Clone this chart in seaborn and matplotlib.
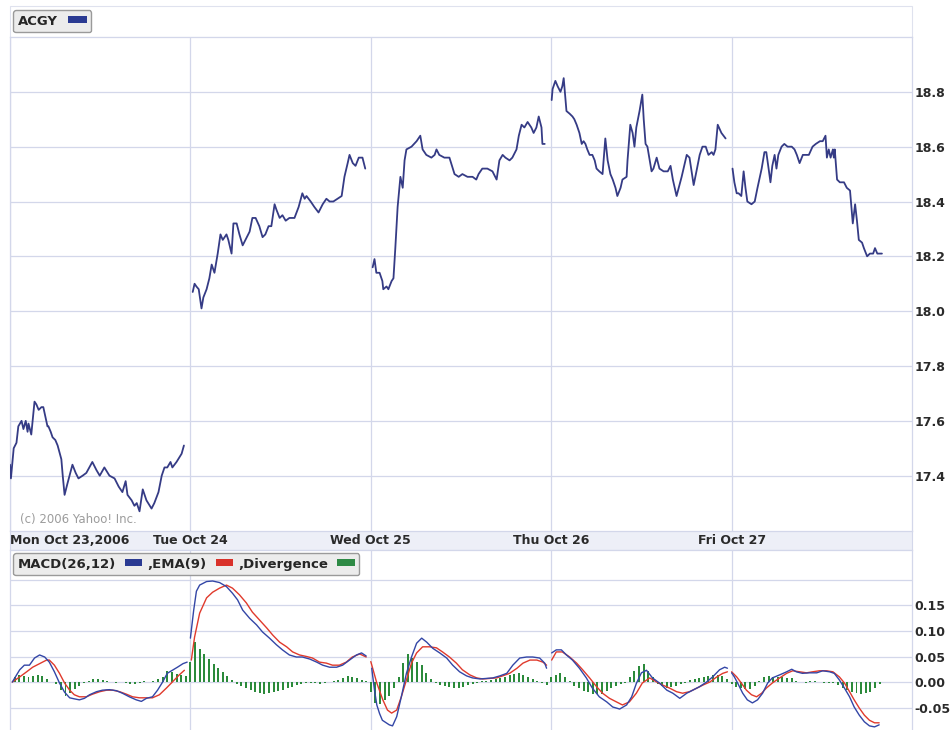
import numpy as np
import pandas as pd
import matplotlib
matplotlib.use("Agg")
import matplotlib.pyplot as plt
from matplotlib.patches import Rectangle, Patch
import seaborn as sns

# ---------------- data ----------------
day_labels = ["Mon Oct 23,2006", "Tue Oct 24", "Wed Oct 25", "Thu Oct 26", "Fri Oct 27"]
SESSION_MIN = 390          # minutes in a trading session (9:30-16:00)
BAR_STEP_MIN = 10          # divergence bar interval, minutes

# price: minutes after the open, price
mon_t = [0, 2, 8, 14, 18, 25, 29, 34, 38, 40, 46, 53, 57, 62, 68, 72, 81, 83, 88, 92, 98, 103, 111, 114, 118,
         124, 135, 142, 148, 157, 165, 178, 187, 194, 204, 215, 226, 235, 243, 250, 254, 263, 269, 274, 280,
         287, 295, 306, 312, 321, 328, 334, 340, 347, 351, 360, 371, 376]
mon_p = [17.44, 17.39, 17.50, 17.52, 17.58, 17.60, 17.57, 17.60, 17.56, 17.59, 17.55, 17.67, 17.66, 17.64, 17.65,
         17.65, 17.58, 17.58, 17.56, 17.54, 17.53, 17.51, 17.46, 17.40, 17.33, 17.37, 17.44, 17.41, 17.39, 17.40,
         17.41, 17.45, 17.42, 17.40, 17.43, 17.40, 17.39, 17.36, 17.34, 17.38, 17.33, 17.31, 17.29, 17.30, 17.27,
         17.35, 17.31, 17.28, 17.30, 17.34, 17.40, 17.43, 17.43, 17.45, 17.43, 17.45, 17.48, 17.51]
tue_t = [5, 9, 13, 18, 24, 28, 35, 41, 46, 52, 59, 65, 70, 78, 82, 89, 93, 100, 106, 113, 119, 128, 134, 141, 149,
         156, 162, 169, 175, 182, 186, 193, 199, 206, 214, 225, 234, 242, 247, 251, 260, 268, 277, 286, 294, 301,
         309, 318, 327, 333, 340, 344, 351, 357, 364, 372, 378]
tue_p = [18.07, 18.10, 18.09, 18.08, 18.01, 18.05, 18.08, 18.12, 18.17, 18.14, 18.21, 18.28, 18.26, 18.28, 18.26,
         18.21, 18.32, 18.32, 18.28, 18.24, 18.26, 18.29, 18.34, 18.34, 18.31, 18.27, 18.28, 18.31, 18.31, 18.39,
         18.37, 18.34, 18.35, 18.33, 18.34, 18.34, 18.38, 18.43, 18.41, 18.42, 18.40, 18.38, 18.36, 18.39, 18.41,
         18.40, 18.40, 18.41, 18.42, 18.49, 18.54, 18.57, 18.54, 18.53, 18.56, 18.56, 18.52]
wed_t = [4, 8, 12, 19, 25, 27, 34, 38, 45, 49, 53, 58, 64, 69, 73, 77, 88, 99, 107, 112, 120, 131, 138, 142, 148,
         159, 170, 181, 190, 198, 209, 220, 228, 233, 241, 252, 263, 272, 278, 285, 291, 300, 306, 315, 320, 326,
         332, 339, 347, 352, 358, 363, 369, 371, 376]
wed_p = [18.16, 18.19, 18.14, 18.14, 18.11, 18.08, 18.09, 18.08, 18.11, 18.12, 18.23, 18.38, 18.49, 18.45, 18.55,
         18.59, 18.60, 18.62, 18.64, 18.59, 18.57, 18.56, 18.57, 18.59, 18.57, 18.56, 18.56, 18.50, 18.49, 18.50,
         18.49, 18.49, 18.48, 18.50, 18.52, 18.52, 18.51, 18.48, 18.55, 18.57, 18.56, 18.55, 18.56, 18.59, 18.64,
         18.68, 18.67, 18.69, 18.67, 18.65, 18.67, 18.71, 18.67, 18.61, 18.61]
thu_t = [1, 3, 9, 14, 20, 24, 27, 31, 33, 40, 46, 50, 55, 61, 66, 70, 74, 78, 83, 89, 94, 98, 104, 111, 117, 122,
         128, 133, 139, 143, 150, 154, 163, 165, 171, 176, 180, 184, 191, 197, 200, 204, 208, 217, 221, 228, 234,
         243, 252, 258, 263, 271, 282, 293, 299, 308, 314, 321, 327, 334, 340, 347, 351, 355, 360, 368, 377]
thu_p = [18.77, 18.81, 18.84, 18.82, 18.80, 18.82, 18.85, 18.77, 18.73, 18.72, 18.71, 18.70, 18.68, 18.65, 18.61,
         18.62, 18.61, 18.59, 18.57, 18.57, 18.55, 18.52, 18.51, 18.50, 18.63, 18.55, 18.50, 18.48, 18.45, 18.42,
         18.45, 18.48, 18.49, 18.55, 18.68, 18.65, 18.60, 18.67, 18.73, 18.79, 18.70, 18.61, 18.60, 18.51, 18.52,
         18.56, 18.52, 18.51, 18.51, 18.53, 18.48, 18.42, 18.49, 18.57, 18.56, 18.46, 18.51, 18.57, 18.60, 18.60,
         18.57, 18.58, 18.57, 18.59, 18.68, 18.65, 18.63]
fri_t = [2, 6, 11, 15, 21, 26, 30, 34, 43, 50, 56, 65, 71, 75, 80, 84, 88, 93, 97, 101, 108, 114, 121, 130, 136,
         141, 147, 154, 160, 167, 175, 182, 191, 197, 203, 206, 210, 214, 219, 221, 223, 228, 234, 243, 249, 256,
         258, 262, 267, 271, 275, 282, 286, 293, 299, 306, 310, 315, 321, 325]
fri_p = [18.52, 18.47, 18.43, 18.43, 18.42, 18.51, 18.45, 18.40, 18.39, 18.40, 18.45, 18.52, 18.58, 18.58, 18.52,
         18.47, 18.53, 18.57, 18.52, 18.57, 18.60, 18.61, 18.60, 18.60, 18.59, 18.57, 18.54, 18.57, 18.57, 18.57,
         18.60, 18.61, 18.62, 18.62, 18.64, 18.56, 18.59, 18.56, 18.59, 18.56, 18.59, 18.48, 18.47, 18.47, 18.45,
         18.44, 18.40, 18.32, 18.39, 18.33, 18.26, 18.25, 18.23, 18.20, 18.21, 18.21, 18.23, 18.21, 18.21, 18.21]

# MACD(26,12) line
mon_macd_t = [5, 21, 31, 42, 53, 64, 75, 85, 96, 107, 118, 129, 139, 150, 161, 172, 187, 200, 215, 230, 243, 258,
              273, 284, 295, 308, 319, 330, 340, 351, 362, 374, 383]
mon_macd = [0.0, 0.024, 0.033, 0.033, 0.047, 0.053, 0.049, 0.039, 0.02, -0.002, -0.02, -0.031, -0.033, -0.035,
            -0.032, -0.025, -0.019, -0.016, -0.015, -0.017, -0.022, -0.029, -0.035, -0.038, -0.032, -0.029, -0.016,
            0.0, 0.017, 0.023, 0.029, 0.036, 0.039]
tue_macd_t = [0, 7, 13, 20, 35, 48, 63, 78, 91, 102, 113, 128, 143, 156, 171, 186, 199, 214, 229, 242, 258, 273,
              286, 301, 316, 329, 344, 359, 370, 380]
tue_macd = [0.086, 0.14, 0.178, 0.19, 0.197, 0.198, 0.195, 0.187, 0.174, 0.161, 0.141, 0.125, 0.112, 0.098, 0.086,
            0.073, 0.063, 0.053, 0.049, 0.049, 0.045, 0.039, 0.033, 0.029, 0.029, 0.033, 0.043, 0.053, 0.057, 0.051]
wed_macd_t = [2, 8, 13, 19, 25, 40, 47, 56, 66, 77, 88, 99, 110, 121, 134, 149, 164, 177, 192, 207, 220, 236, 264,
              279, 294, 307, 322, 337, 350, 365, 376, 380]
wed_macd = [0.027, -0.016, -0.045, -0.062, -0.075, -0.084, -0.086, -0.068, -0.029, 0.017, 0.049, 0.076, 0.086,
            0.078, 0.066, 0.057, 0.047, 0.033, 0.02, 0.012, 0.008, 0.006, 0.008, 0.012, 0.017, 0.033, 0.047, 0.049,
            0.049, 0.047, 0.037, 0.027]
thu_macd_t = [1, 11, 22, 33, 46, 61, 76, 89, 104, 120, 133, 148, 163, 174, 184, 195, 206, 219, 234, 250, 263, 278,
              293, 306, 321, 336, 349, 364, 375, 381]
thu_macd = [0.057, 0.063, 0.063, 0.053, 0.043, 0.027, 0.008, -0.012, -0.029, -0.039, -0.049, -0.053, -0.045, -0.029,
            -0.003, 0.018, 0.023, 0.008, -0.002, -0.016, -0.022, -0.032, -0.022, -0.016, -0.009, 0.0, 0.01, 0.024,
            0.029, 0.027]
fri_macd_t = [0, 6, 13, 24, 34, 45, 56, 67, 78, 88, 104, 119, 130, 140, 153, 168, 184, 197, 212, 222, 233, 244,
              255, 265, 276, 287, 298, 309, 319]
fri_macd = [0.018, 0.01, -0.002, -0.022, -0.035, -0.041, -0.035, -0.022, -0.002, 0.008, 0.014, 0.02, 0.025, 0.02,
            0.017, 0.018, 0.018, 0.022, 0.02, 0.017, 0.004, -0.012, -0.029, -0.049, -0.065, -0.078, -0.086, -0.088,
            -0.084]

# EMA(9) signal line
mon_ema_t = [5, 21, 36, 49, 64, 79, 85, 96, 107, 118, 129, 139, 150, 165, 178, 194, 209, 222, 237, 252, 265, 280,
             295, 308, 323, 338, 351, 366, 377]
mon_ema = [0.0, 0.01, 0.02, 0.029, 0.036, 0.043, 0.043, 0.033, 0.017, -0.002, -0.016, -0.025, -0.029, -0.029,
           -0.024, -0.019, -0.016, -0.016, -0.019, -0.024, -0.029, -0.031, -0.031, -0.031, -0.025, -0.012, 0.0,
           0.014, 0.023]
tue_ema_t = [2, 9, 20, 35, 48, 63, 78, 91, 106, 121, 134, 149, 165, 178, 193, 208, 221, 236, 251, 264, 279, 294,
             307, 322, 337, 350, 366, 380]
tue_ema = [0.043, 0.088, 0.135, 0.165, 0.176, 0.184, 0.19, 0.184, 0.171, 0.155, 0.137, 0.122, 0.106, 0.092, 0.078,
           0.069, 0.059, 0.053, 0.05, 0.047, 0.039, 0.037, 0.033, 0.033, 0.039, 0.049, 0.055, 0.049]
wed_ema_t = [0, 13, 26, 36, 45, 56, 66, 77, 88, 99, 112, 127, 142, 155, 170, 185, 198, 214, 229, 242, 272, 285,
             300, 316, 329, 344, 359, 372, 380]
wed_ema = [0.04, -0.002, -0.035, -0.055, -0.061, -0.055, -0.029, 0.004, 0.037, 0.057, 0.069, 0.069, 0.067, 0.059,
           0.049, 0.037, 0.024, 0.014, 0.008, 0.006, 0.008, 0.012, 0.017, 0.027, 0.037, 0.043, 0.043, 0.039, 0.033]
thu_ema_t = [1, 11, 24, 40, 55, 68, 83, 98, 111, 126, 141, 154, 169, 184, 197, 213, 228, 241, 256, 271, 284, 299,
             315, 328, 343, 358, 371, 381]
thu_ema = [0.043, 0.059, 0.059, 0.049, 0.037, 0.024, 0.008, -0.009, -0.022, -0.032, -0.039, -0.045, -0.039, -0.022,
           -0.002, 0.008, 0.0, -0.006, -0.012, -0.019, -0.022, -0.019, -0.012, -0.006, 0.0, 0.01, 0.017, 0.02]
fri_ema_t = [0, 11, 21, 32, 43, 54, 65, 75, 88, 104, 119, 132, 147, 162, 175, 190, 205, 219, 233, 244, 255, 265,
             276, 287, 298, 309, 319]
fri_ema = [0.02, 0.01, -0.002, -0.016, -0.025, -0.029, -0.022, -0.012, -0.002, 0.008, 0.017, 0.022, 0.02, 0.018,
           0.02, 0.022, 0.022, 0.02, 0.01, -0.002, -0.019, -0.035, -0.051, -0.065, -0.075, -0.08, -0.08]

# Divergence bars, one every BAR_STEP_MIN minutes from the open
mon_div = [0.005, 0.01, 0.013, 0.012, 0.01, 0.012, 0.013, 0.011, 0.006, 0.0, -0.003, -0.015, -0.028, -0.022,
           -0.013, -0.007, -0.002, 0.002, 0.006, 0.005, 0.003, 0.001, 0.0, -0.001, 0.0, -0.002, -0.003, -0.003,
           -0.001, 0.001, 0.0, 0.002, 0.005, 0.01, 0.022, 0.02, 0.016, 0.013, 0.012]
tue_div = [0.04, 0.078, 0.065, 0.055, 0.045, 0.035, 0.028, 0.02, 0.012, 0.004, -0.004, -0.008, -0.012, -0.016,
           -0.02, -0.022, -0.023, -0.021, -0.02, -0.018, -0.015, -0.012, -0.01, -0.006, -0.004, -0.002, -0.002,
           -0.002, -0.003, -0.001, 0.0, 0.002, 0.004, 0.008, 0.011, 0.01, 0.007, 0.004, 0.001]
wed_div = [-0.02, -0.042, -0.043, -0.035, -0.027, -0.012, 0.01, 0.038, 0.055, 0.048, 0.04, 0.033, 0.018, 0.006,
           -0.002, -0.005, -0.008, -0.01, -0.012, -0.011, -0.009, -0.006, -0.004, -0.002, 0.001, 0.002, 0.004,
           0.005, 0.007, 0.01, 0.013, 0.015, 0.017, 0.014, 0.01, 0.006, 0.002, -0.002, -0.005]
thu_div = [0.01, 0.014, 0.017, 0.01, 0.001, -0.007, -0.012, -0.017, -0.02, -0.023, -0.024, -0.023, -0.017, -0.011,
           -0.007, -0.004, -0.001, 0.01, 0.022, 0.031, 0.036, 0.022, 0.01, -0.003, -0.008, -0.011, -0.01, -0.007,
           -0.004, -0.001, 0.003, 0.005, 0.008, 0.01, 0.012, 0.013, 0.013, 0.011, 0.006]
fri_div = [-0.004, -0.01, -0.012, -0.014, -0.013, -0.008, 0.002, 0.01, 0.012, 0.01, 0.009, 0.01, 0.008, 0.007,
           0.002, 0.0, -0.001, 0.001, 0.001, 0.0, -0.001, -0.001, -0.002, -0.006, -0.012, -0.016, -0.02, -0.022,
           -0.024, -0.022, -0.019, -0.012, -0.004]

price_ticks = [17.4, 17.6, 17.8, 18.0, 18.2, 18.4, 18.6, 18.8]
macd_ticks = [-0.05, 0.00, 0.05, 0.10, 0.15, 0.20]
macd_tick_labels = ["-0.05", "0.00", "0.05", "0.10", "0.15", ""]

# ---------------- tidy frames ----------------
price_days = [(mon_t, mon_p), (tue_t, tue_p), (wed_t, wed_p), (thu_t, thu_p), (fri_t, fri_p)]
macd_days = [(mon_macd_t, mon_macd), (tue_macd_t, tue_macd), (wed_macd_t, wed_macd),
             (thu_macd_t, thu_macd), (fri_macd_t, fri_macd)]
ema_days = [(mon_ema_t, mon_ema), (tue_ema_t, tue_ema), (wed_ema_t, wed_ema),
            (thu_ema_t, thu_ema), (fri_ema_t, fri_ema)]
div_days = [mon_div, tue_div, wed_div, thu_div, fri_div]

price_df = pd.concat([pd.DataFrame({"x": d + np.array(t) / SESSION_MIN, "price": p, "day": d})
                      for d, (t, p) in enumerate(price_days)], ignore_index=True)
macd_df = pd.concat(
    [pd.DataFrame({"x": d + np.array(t) / SESSION_MIN, "value": v, "series": "MACD", "day": d})
     for d, (t, v) in enumerate(macd_days)] +
    [pd.DataFrame({"x": d + np.array(t) / SESSION_MIN, "value": v, "series": "EMA", "day": d})
     for d, (t, v) in enumerate(ema_days)], ignore_index=True)
div_df = pd.concat([pd.DataFrame({"x": d + np.arange(len(v)) * BAR_STEP_MIN / SESSION_MIN, "div": v})
                    for d, v in enumerate(div_days)], ignore_index=True)

# ---------------- style ----------------
sns.set_style("white")
plt.rcParams["font.family"] = ["DejaVu Sans"]

GRID = "#d3d7ea"
PRICE_C = "#353b85"
MACD_C = "#3346a6"
EMA_C = "#e03a2c"
DIV_C = "#2b8a3b"
TXT = "#2a2a2a"

W, H = 953, 730
fig = plt.figure(figsize=(W / 100, H / 100), dpi=100)


def fx(px):
    return px / W


def fy(py):
    return 1 - py / H


# header strip and date strip
fig.add_artist(Rectangle((fx(10), fy(37)), fx(902), 31 / H, transform=fig.transFigure,
                         facecolor="white", edgecolor="#dfe2ee", lw=0.8, zorder=-1))
fig.add_artist(Rectangle((fx(10), fy(550)), fx(902), 20 / H, transform=fig.transFigure,
                         facecolor="#edeff7", edgecolor="#d3d7ea", lw=0.8, zorder=-1))

ax_p = fig.add_axes([fx(10), fy(530.5), fx(902), (530.5 - 37) / H])
ax_m = fig.add_axes([fx(10), fy(730), fx(902), (730 - 550) / H])

# ---- price panel ----
sns.lineplot(data=price_df, x="x", y="price", units="day", estimator=None, sort=False,
             color=PRICE_C, linewidth=1.3, legend=False, ax=ax_p, zorder=3)
ax_p.set_xlim(0, 5)
ax_p.set_ylim(17.2, 19.0)
ax_p.set_yticks(price_ticks)
ax_p.set_yticklabels([f"{v:.1f}" for v in price_ticks])
ax_p.set_xticks(range(5))
ax_p.set_xticklabels(day_labels)
ax_p.get_xticklabels()[0].set_horizontalalignment("left")
ax_p.yaxis.tick_right()
ax_p.tick_params(axis="y", length=0, pad=1.5, labelsize=9, labelcolor=TXT)
ax_p.tick_params(axis="x", length=0, pad=2.5, labelsize=9, labelcolor=TXT)
for lab in ax_p.get_xticklabels() + ax_p.get_yticklabels():
    lab.set_fontweight("bold")
ax_p.grid(True, color=GRID, linewidth=0.9)
ax_p.set_axisbelow(True)
ax_p.set_xlabel("")
ax_p.set_ylabel("")
for s in ax_p.spines.values():
    s.set_color(GRID)
    s.set_linewidth(0.9)
ax_p.text(0.011, 0.023, "(c) 2006 Yahoo! Inc.", transform=ax_p.transAxes, fontsize=8.5,
          color="#9c9c9c", va="center", ha="left")
ax_p.legend(handles=[Patch(facecolor="#2a3a92", edgecolor="none")], labels=["ACGY"],
            markerfirst=False, loc="upper left", bbox_to_anchor=(fx(13), fy(10)),
            bbox_transform=fig.transFigure, borderaxespad=0, frameon=True, fancybox=True,
            facecolor="#ececec", edgecolor="#9a9a9a", framealpha=1,
            prop={"weight": "bold", "size": 9.5}, handlelength=1.4, handleheight=0.45,
            handletextpad=0.8, borderpad=0.35)

# ---- MACD panel ----
ax_m.bar(div_df["x"], div_df["div"], width=0.011, color=DIV_C, linewidth=0, zorder=2)
sns.lineplot(data=macd_df, x="x", y="value", hue="series", units="day", estimator=None, sort=False,
             palette={"MACD": MACD_C, "EMA": EMA_C}, hue_order=["EMA", "MACD"],
             linewidth=1.0, legend=False, ax=ax_m, zorder=3)
ax_m.set_xlim(0, 5)
ax_m.set_ylim(-0.0941, 0.2588)
ax_m.set_yticks(macd_ticks)
ax_m.set_yticklabels(macd_tick_labels)
ax_m.set_xticks(range(1, 5))
ax_m.set_xticklabels([])
ax_m.yaxis.tick_right()
ax_m.tick_params(axis="y", length=0, pad=1.5, labelsize=9, labelcolor=TXT)
ax_m.tick_params(axis="x", length=0)
for lab in ax_m.get_yticklabels():
    lab.set_fontweight("bold")
ax_m.grid(True, color=GRID, linewidth=0.9)
ax_m.set_axisbelow(True)
ax_m.set_xlabel("")
ax_m.set_ylabel("")
for s in ax_m.spines.values():
    s.set_color(GRID)
    s.set_linewidth(0.9)
ax_m.spines["bottom"].set_visible(False)
ax_m.legend(handles=[Patch(facecolor="#2a3a92", edgecolor="none"),
                     Patch(facecolor="#d9322a", edgecolor="none"),
                     Patch(facecolor="#2e8a45", edgecolor="none")],
            labels=["MACD(26,12)", ",EMA(9)", ",Divergence"], ncol=3,
            markerfirst=False, loc="upper left", bbox_to_anchor=(fx(13), fy(553)),
            bbox_transform=fig.transFigure, borderaxespad=0, frameon=True, fancybox=True,
            facecolor="#ececec", edgecolor="#9a9a9a", framealpha=1,
            prop={"weight": "bold", "size": 9.5}, handlelength=1.3, handleheight=0.45,
            handletextpad=0.7, columnspacing=0.4, borderpad=0.35)

fig.savefig("out.png", dpi=100)
